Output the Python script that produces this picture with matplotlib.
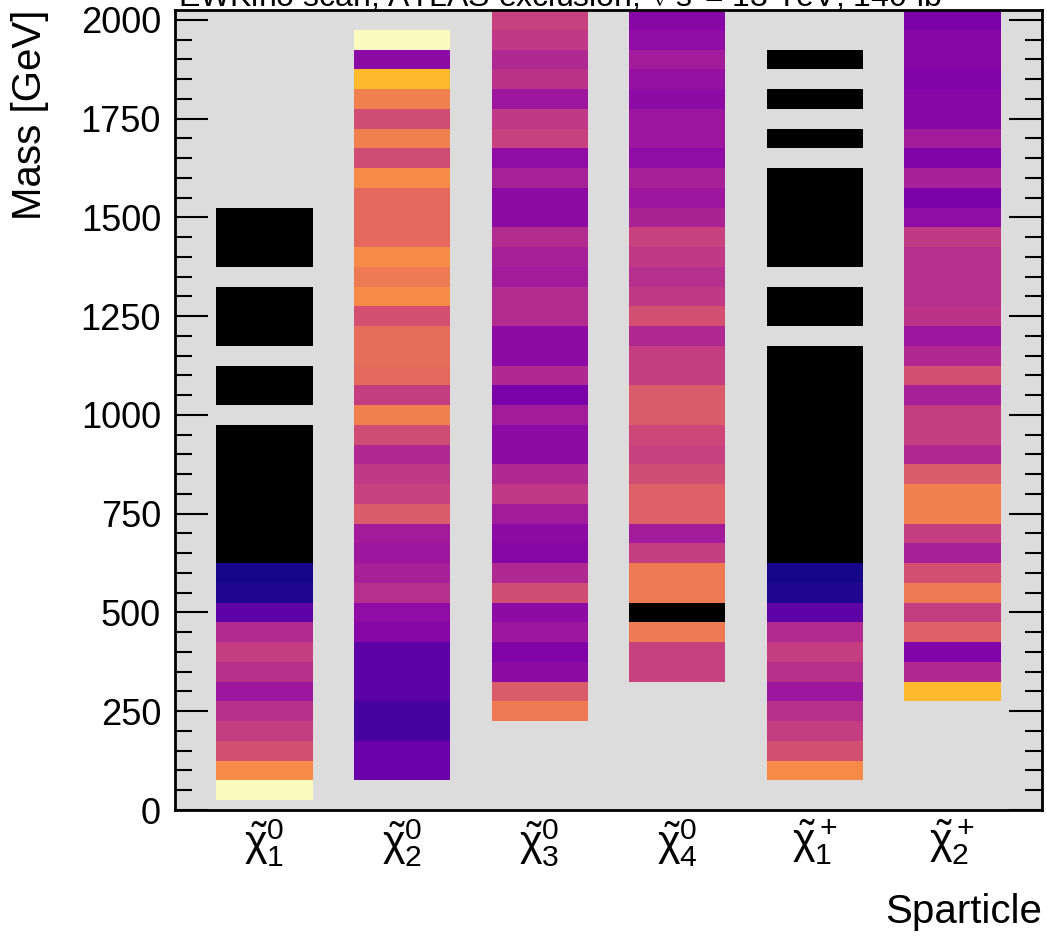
import numpy as np
import matplotlib
matplotlib.use('Agg')
import matplotlib.pyplot as plt
from matplotlib.ticker import MultipleLocator

# ── Style: ROOT/ATLAS-like, Helvetica-metric font ─────────────────────────
matplotlib.rcParams.update({
    'font.family': ['Liberation Sans', 'DejaVu Sans'],
    'mathtext.fontset': 'custom',
    'mathtext.rm': 'Liberation Sans',
    'mathtext.it': 'Liberation Sans',
    'mathtext.bf': 'Liberation Sans:bold',
    'axes.linewidth': 2.0,
})

# ── Data ──────────────────────────────────────────────────────────────────
# mass bin centres (GeV), listed top -> bottom
MASS = list(range(2000, 0, -50))
N = np.nan   # no entry
X = -1.0     # excluded (drawn black)
W = 2.0      # above colour range (pale yellow)

SPARTICLES = [r'$\tilde{\chi}^0_1$', r'$\tilde{\chi}^0_2$', r'$\tilde{\chi}^0_3$',
              r'$\tilde{\chi}^0_4$', r'$\tilde{\chi}^+_1$', r'$\tilde{\chi}^+_2$']

chi1 = [N, N, N, N, N, N, N, N, N, N,
        X, X, X, N, X, X, X, N, X, X, N,
        X, X, X, X, X, X, X,
        0.012, 0.03, 0.17, 0.40, 0.467, 0.418, 0.333, 0.42, 0.467, 0.53, 0.72, W]

chi2 = [N, W,
        0.29, 0.85, 0.688, 0.517, 0.688, 0.517, 0.72, 0.618, 0.618, 0.618,
        0.72, 0.67, 0.72, 0.53, 0.625, 0.625, 0.618, 0.467, 0.688, 0.517,
        0.397, 0.452, 0.48, 0.567, 0.35, 0.333, 0.364, 0.415, 0.297, 0.276,
        0.166, 0.166, 0.166, 0.11, 0.11, 0.2, 0.2, N]

chi3 = [0.48, 0.452, 0.397, 0.43, 0.333, 0.452, 0.48, 0.297, 0.37, 0.29,
        0.29, 0.403, 0.364, 0.35, 0.403, 0.403, 0.29, 0.29, 0.397, 0.243,
        0.35, 0.29, 0.29, 0.397, 0.452, 0.35, 0.29, 0.276, 0.397, 0.517,
        0.29, 0.333, 0.254, 0.29, 0.567, 0.67, N, N, N, N]

chi4 = [0.276, 0.297, 0.35, 0.314, 0.29, 0.333, 0.333, 0.297, 0.364, 0.333,
        0.376, 0.48, 0.452, 0.415, 0.452, 0.53, 0.397, 0.467, 0.467, 0.567,
        0.567, 0.50, 0.48, 0.517, 0.585, 0.585, 0.35, 0.467, 0.67, 0.67,
        X, 0.67, 0.48, 0.48, N, N, N, N, N, N]

chip1 = [N, N, X, N, X, N, X, N, X, X,
         X, X, X, N, X, X, N, X, X, X,
         X, X, X, X, X, X, X, X,
         0.012, 0.03, 0.17, 0.40, 0.467, 0.418, 0.333, 0.42, 0.467, 0.53, 0.72, N]

chip2 = [0.243, 0.276, 0.276, 0.254, 0.276, 0.276, 0.35, 0.254, 0.364, 0.243,
         0.297, 0.452, 0.415, 0.415, 0.415, 0.43, 0.333, 0.397, 0.53, 0.364,
         0.467, 0.467, 0.397, 0.567, 0.688, 0.688, 0.467, 0.364, 0.53, 0.67,
         0.467, 0.585, 0.254, 0.397, 0.85, N, N, N, N, N]

COLUMNS = [chi1, chi2, chi3, chi4, chip1, chip2]

# ── Figure ────────────────────────────────────────────────────────────────
fig = plt.figure(figsize=(10.47, 9.36), dpi=100)
ax = fig.add_axes([175 / 1047, 1 - 810 / 936, 867 / 1047, 800 / 936])
ax.set_facecolor('#dcdcdc')

cmap = plt.get_cmap('plasma').copy()
cmap.set_under('black')
cmap.set_over('#fbfbc0')
cmap.set_bad((0, 0, 0, 0))

mass = np.array(MASS[::-1], dtype=float)
edges = np.append(mass - 25, mass[-1] + 25)
for i, col in enumerate(COLUMNS):
    z = np.ma.masked_invalid(np.array(col[::-1], dtype=float)).reshape(-1, 1)
    ax.pcolormesh([i - 0.35, i + 0.35], edges, z, cmap=cmap,
                  vmin=0, vmax=1, antialiased=False, shading='flat')

ax.set_xlim(-0.65, 5.65)
ax.set_ylim(0, 2025)
ax.set_xticks(range(len(SPARTICLES)))
ax.set_xticklabels(SPARTICLES, fontsize=31)
ax.tick_params(axis='x', length=0, pad=5)

ax.yaxis.set_major_locator(MultipleLocator(250))
ax.yaxis.set_minor_locator(MultipleLocator(50))
ax.tick_params(axis='y', which='both', direction='in', left=True, right=True,
               labelsize=26, width=1.5, pad=10)
ax.tick_params(axis='y', which='major', length=24)
ax.tick_params(axis='y', which='minor', length=12)

ax.set_ylabel('Mass [GeV]', loc='top', fontsize=29)
ax.yaxis.set_label_coords(-0.145, 1.0)
ax.set_xlabel('Sparticle', loc='right', fontsize=29)
ax.xaxis.set_label_coords(1.0, -0.104)
ax.xaxis.label.set_va('top')

fig.text(178 / 1047, 1 - 7 / 936,
         r'EWKino scan, ATLAS exclusion, $\sqrt{s}$ = 13 TeV, 140 fb$^{-1}$',
         fontsize=23, ha='left', va='baseline')

fig.savefig('out.png', dpi=100, facecolor='white')
